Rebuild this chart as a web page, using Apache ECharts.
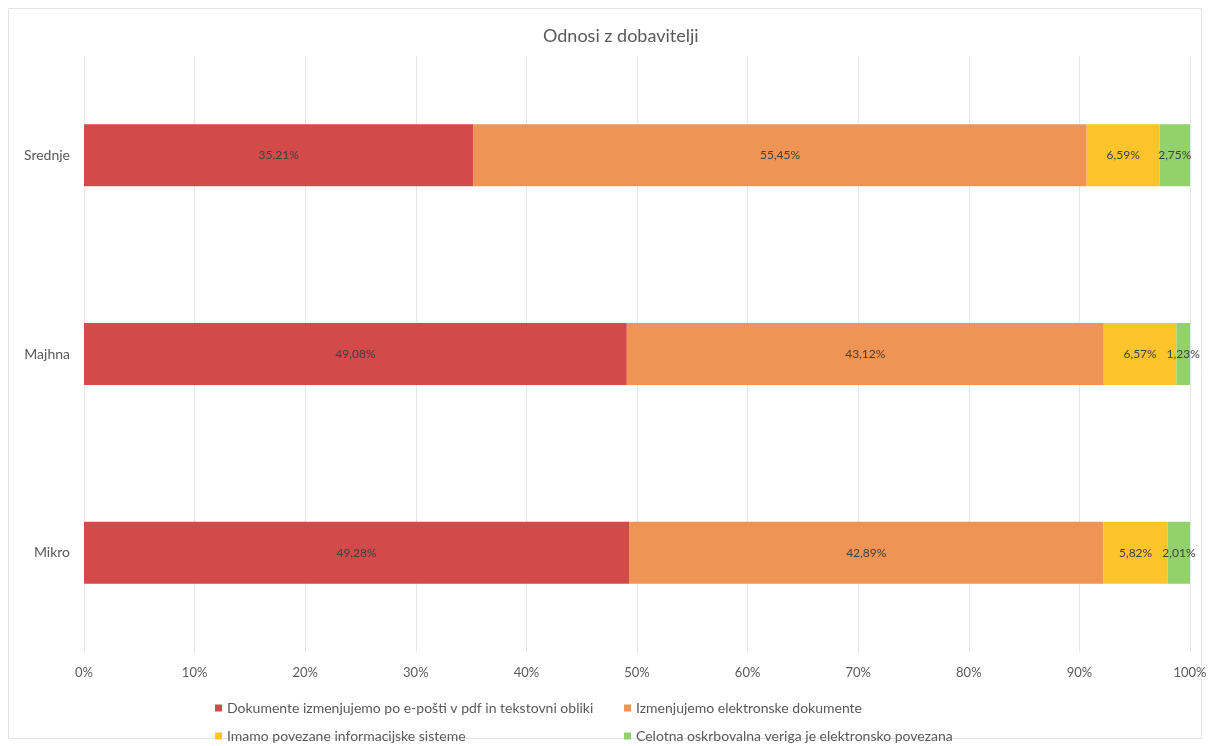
<!DOCTYPE html>
<html>
<head>
<meta charset="utf-8">
<script src="https://cdn.jsdelivr.net/npm/echarts@6/dist/echarts.min.js"></script>
<style>
  html, body { margin: 0; padding: 0; background: #ffffff; }
  #chart { width: 1210px; height: 746px; }
</style>
</head>
<body>
<div id="chart"></div>
<script>
// Company size classes (bottom to top on the axis)
const categories = ['Mikro', 'Majhna', 'Srednje'];

// Share of companies per way of working with suppliers (percent)
const seriesNames = [
  'Dokumente izmenjujemo po e-pošti v pdf in tekstovni obliki',
  'Izmenjujemo elektronske dokumente',
  'Imamo povezane informacijske sisteme',
  'Celotna oskrbovalna veriga je elektronsko povezana'
];
const emailDocs = [49.28, 49.08, 35.21];
const electronicDocs = [42.89, 43.12, 55.45];
const linkedSystems = [5.82, 6.57, 6.59];
const fullChain = [2.01, 1.23, 2.75];

const xTicks = [0, 10, 20, 30, 40, 50, 60, 70, 80, 90, 100];

const colors = ['#D34A4B', '#EF9454', '#FBC42B', '#93D16D'];
const font = 'Lato, "Open Sans", sans-serif';

const chart = echarts.init(document.getElementById('chart'), null, { renderer: 'canvas' });

function pct(v) {
  return v.toFixed(2).replace('.', ',') + '%';
}

const values = [emailDocs, electronicDocs, linkedSystems, fullChain];

const series = values.map((vals, i) => ({
  name: seriesNames[i],
  type: 'bar',
  stack: 'total',
  barWidth: 62,
  data: vals,
  itemStyle: { color: colors[i] },
  label: {
    show: true,
    position: 'inside',
    formatter: p => pct(p.value),
    color: '#3f3f3f',
    fontFamily: font,
    fontSize: 12
  },
  emphasis: { disabled: true }
}));

const legendBase = {
  icon: 'rect',
  itemWidth: 7,
  itemHeight: 7,
  itemGap: 10,
  textStyle: { color: '#595959', fontFamily: font, fontSize: 14 }
};

chart.setOption({
  animation: false,
  backgroundColor: '#ffffff',
  title: {
    text: 'Odnosi z dobavitelji',
    left: 538,
    top: 22,
    textStyle: { color: '#595959', fontFamily: font, fontSize: 18, fontWeight: 'normal' }
  },
  graphic: [{
    type: 'rect',
    shape: { x: 8.5, y: 8.5, width: 1193, height: 730 },
    style: { fill: 'none', stroke: '#e3e3e3', lineWidth: 1 },
    silent: true
  }],
  legend: [
    Object.assign({}, legendBase, { data: [seriesNames[0]], left: 210, top: 696 }),
    Object.assign({}, legendBase, { data: [seriesNames[1]], left: 619, top: 696 }),
    Object.assign({}, legendBase, { data: [seriesNames[2]], left: 210, top: 724 }),
    Object.assign({}, legendBase, { data: [seriesNames[3]], left: 619, top: 724 })
  ],
  grid: { left: 84, right: 20, top: 56, bottom: 94, containLabel: false },
  xAxis: {
    type: 'value',
    min: xTicks[0],
    max: xTicks[xTicks.length - 1],
    interval: 10,
    axisLine: { show: false },
    axisTick: { show: false },
    splitLine: { show: true, lineStyle: { color: '#e6e6e6', width: 1 } },
    axisLabel: {
      formatter: v => v + '%',
      color: '#595959',
      fontFamily: font,
      fontSize: 13,
      margin: 14
    }
  },
  yAxis: {
    type: 'category',
    data: categories,
    axisLine: { show: false },
    axisTick: { show: false },
    axisLabel: { color: '#595959', fontFamily: font, fontSize: 14, margin: 14 }
  },
  series: series
});
</script>
</body>
</html>
